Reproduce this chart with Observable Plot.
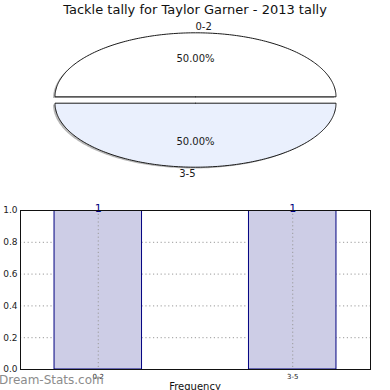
<!DOCTYPE html>
<html>
<head>
<meta charset="utf-8">
<script src="https://cdn.jsdelivr.net/npm/d3@7"></script>
<script src="https://cdn.jsdelivr.net/npm/@observablehq/plot@0.6"></script>
<style>
  html, body { margin: 0; padding: 0; background: #fff; }
  #wrap { position: relative; width: 390px; height: 390px; overflow: hidden; font-family: "DejaVu Sans", sans-serif; }
  #wrap svg { position: absolute; left: 0; font-family: "DejaVu Sans", sans-serif; }
  .txt { position: absolute; white-space: nowrap; }
</style>
</head>
<body>
<div id="wrap"></div>
<script>
const title = "Tackle tally for Taylor Garner - 2013 tally";
const categories = ["0-2", "3-5"];
const counts = [1, 1];
const sliceColors = ["#ffffff", "#eaf0fd"];
const yTicks = [0, 0.2, 0.4, 0.6, 0.8, 1.0];
const xLabel = "Frequency";
const watermark = "Dream-Stats.com";

const wrap = document.getElementById("wrap");

// ---------- Pie (drawn in unit coordinates through Plot's x/y scales) ----------
const total = d3.sum(counts);
const explode = 0.05;
const slices = [];
let start = 0;
categories.forEach((c, i) => {
  const sweep = counts[i] / total * 360;
  const t1 = start, t2 = start + sweep, mid = (t1 + t2) / 2;
  const mr = mid * Math.PI / 180;
  const ox = explode * Math.cos(mr), oy = explode * Math.sin(mr);
  const pts = [{x: ox, y: oy}];
  for (let a = t1; a <= t2 + 1e-9; a += 1) {
    const r = a * Math.PI / 180;
    pts.push({x: ox + Math.cos(r), y: oy + Math.sin(r)});
  }
  pts.push({x: ox, y: oy});
  slices.push({
    label: c, pts, color: sliceColors[i],
    pct: (counts[i] / total * 100).toFixed(2) + "%",
    px: ox + 0.6 * Math.cos(mr), py: oy + 0.6 * Math.sin(mr),
    lx: ox + 1.1 * Math.cos(mr), ly: oy + 1.1 * Math.sin(mr),
    anchor: Math.cos(mr) > 0 ? "start" : "end"
  });
  start = t2;
});

const sdx = -0.014, sdy = -0.02;
const pieMarks = [];
slices.forEach(s => {
  pieMarks.push(Plot.line(s.pts, {x: d => d.x + sdx, y: d => d.y + sdy, fill: "#909090", fillOpacity: 0.65, stroke: "none"}));
});
slices.forEach(s => {
  pieMarks.push(Plot.line(s.pts, {x: "x", y: "y", fill: s.color, stroke: "#1a1a1a", strokeWidth: 1}));
});
pieMarks.push(Plot.text(slices, {x: "px", y: "py", text: "pct", fontSize: 10, fill: "#1a1a1a"}));
slices.forEach(s => {
  pieMarks.push(Plot.text([s], {x: "lx", y: "ly", text: "label", fontSize: 10, fill: "#1a1a1a", textAnchor: s.anchor}));
});

const pie = Plot.plot({
  width: 390, height: 185, margin: 0,
  x: {domain: [-1, 1], range: [54.5, 335.5], axis: null},
  y: {domain: [-1, 1], range: [163.5, 35.5], axis: null},
  marks: pieMarks
});
pie.style.top = "0px";
wrap.appendChild(pie);

// ---------- Bar chart ----------
const bars = categories.map((c, i) => ({cat: c, pos: i, count: counts[i]}));
const barW = 0.45;

const bar = Plot.plot({
  width: 390, height: 200,
  marginTop: 20, marginBottom: 21, marginLeft: 20, marginRight: 20,
  x: {domain: [-0.4, 1.4], axis: null, label: null},
  y: {domain: [0, 1], axis: null, label: null},
  marks: [
    Plot.ruleY(yTicks.slice(1, -1), {stroke: "#9a9a9a", strokeDasharray: "1.2,2.6", strokeWidth: 1}),
    Plot.rectY(bars, {x1: d => d.pos - barW / 2, x2: d => d.pos + barW / 2, y1: 0, y2: "count", fill: "#cdcde6", stroke: "#000080", strokeWidth: 1, insetTop: 0.5}),
    Plot.ruleX(bars, {x: "pos", stroke: "#9a9a9a", strokeDasharray: "1.2,2.6", strokeWidth: 1}),
    Plot.text(bars, {x: "pos", y: "count", text: d => String(d.count), fill: "#000080", fontSize: 11, lineAnchor: "bottom", dy: 1}),
    Plot.axisY({ticks: yTicks, tickFormat: d3.format(".1f"), tickSize: 0, tickPadding: 3, fontSize: 9, fill: "#222", label: null}),
    Plot.axisX({ticks: bars.map(d => d.pos), tickFormat: i => categories[i], tickSize: 0, tickPadding: 5, fontSize: 7, fill: "#222", label: null}),
    Plot.frame({stroke: "#111", strokeWidth: 1})
  ]
});
bar.style.top = "190px";
wrap.appendChild(bar);

// ---------- Texts ----------
function addText(t, css) {
  const d = document.createElement("div");
  d.className = "txt";
  d.textContent = t;
  Object.assign(d.style, css);
  wrap.appendChild(d);
}
addText(title, {left: "0px", width: "390px", textAlign: "center", top: "2px", fontSize: "13px", color: "#111"});
addText(xLabel, {left: "0px", width: "390px", textAlign: "center", top: "381px", fontSize: "10px", color: "#111"});
addText(watermark, {left: "-1px", top: "373px", fontSize: "12px", color: "#8c8c8c"});
</script>
</body>
</html>
